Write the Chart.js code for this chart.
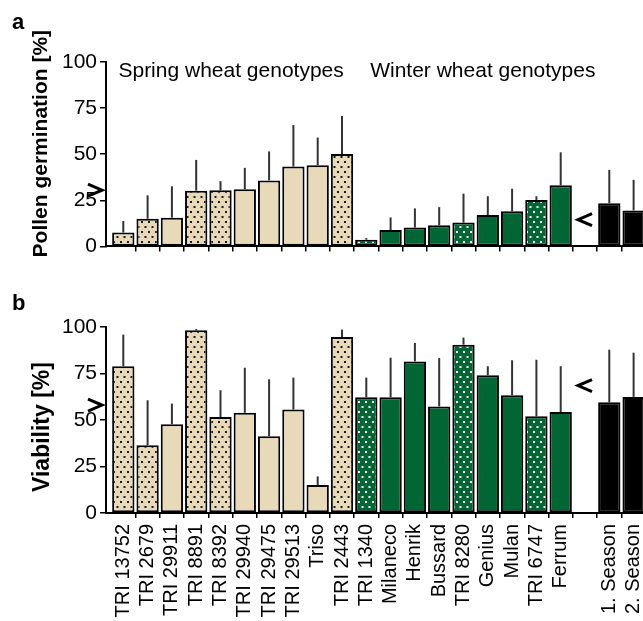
<!DOCTYPE html>
<html>
<head>
<meta charset="utf-8">
<script src="https://cdn.jsdelivr.net/npm/chart.js@4.4.1/dist/chart.umd.min.js"></script>
<style>
  html, body { margin: 0; padding: 0; background: #fff; overflow: hidden; width: 643px; height: 621px; }
  #wrapA { position: absolute; left: 0; top: 0; width: 680px; height: 262px; }
  #wrapB { position: absolute; left: 0; top: 270px; width: 680px; height: 370px; }
</style>
</head>
<body>
<div id="wrapA"><canvas id="chartA"></canvas></div>
<div id="wrapB"><canvas id="chartB"></canvas></div>
<script>
// categories (empty slot = gap before the season bars)
const genotypes = ['TRI 13752', 'TRI 2679', 'TRI 29911', 'TRI 8891', 'TRI 8392', 'TRI 29940', 'TRI 29475', 'TRI 29513', 'Triso', 'TRI 2443',
  'TRI 1340', 'Milaneco', 'Henrik', 'Bussard', 'TRI 8280', 'Genius', 'Mulan', 'TRI 6747', 'Ferrum', '', '1. Season', '2. Season'];
const group = ['S', 'S', 'S', 'S', 'S', 'S', 'S', 'S', 'S', 'S', 'W', 'W', 'W', 'W', 'W', 'W', 'W', 'W', 'W', '', 'K', 'K'];
const dotted = [1, 1, 0, 1, 1, 0, 0, 0, 0, 1, 1, 0, 0, 0, 1, 0, 0, 1, 0, 0, 0, 0];

// a: pollen germination [%], mean and SD
const germination = [7.5, 15.0, 15.6, 30.2, 30.4, 31.0, 35.8, 43.3, 44.0, 50.1, 3.6, 8.9, 10.2, 11.5, 12.9, 17.0, 19.0, 25.2, 33.1, null, 23.4, 19.5];
const germinationSd = [6.3, 12.7, 17.0, 16.7, 5.0, 11.6, 15.7, 22.5, 15.0, 20.6, 0.9, 6.8, 10.4, 9.8, 15.7, 10.2, 12.3, 2.0, 17.9, null, 18.1, 16.6];
// b: viability [%], mean and SD
const viability = [78.9, 36.4, 47.7, 98.2, 51.6, 53.9, 41.2, 55.6, 15.1, 94.6, 62.2, 62.2, 81.5, 57.3, 90.5, 74.0, 63.3, 52.0, 54.3, null, 59.5, 62.4];
const viabilitySd = [17.0, 24.2, 11.1, 0.7, 14.4, 24.2, 30.7, 17.2, 4.6, 4.0, 10.6, 21.3, 9.9, 26.0, 3.8, 4.9, 18.8, 30.4, 24.6, null, 28.3, 23.8];

// group means marked by arrows: [spring, winter]
const germinationArrows = [30.5, 14.5];
const viabilityArrows = [58, 68.5];
const groupLabels = ['Spring wheat genotypes', 'Winter wheat genotypes'];
const yTicks = [0, 25, 50, 75, 100];

const FONT = '"Liberation Sans", Arial, sans-serif';
const BEIGE = '#e8dab9', GREEN = '#006633';
const XMIN = -0.712, XMAX = XMIN + 574 / 24.3;

function dots(bg, dot) {
  const c = document.createElement('canvas');
  c.width = 7; c.height = 10;
  const g = c.getContext('2d');
  g.fillStyle = bg; g.fillRect(0, 0, 7, 10);
  g.fillStyle = dot;
  g.fillRect(1, 1, 2, 2);
  g.fillRect(4.5, 6, 2, 2);
  return g.createPattern(c, 'repeat');
}
const beigeDots = dots(BEIGE, '#1a1a1a');
const greenDots = dots(GREEN, '#ffffff');

const fills = genotypes.map((n, i) => {
  if (group[i] === 'S') return dotted[i] ? beigeDots : BEIGE;
  if (group[i] === 'W') return dotted[i] ? greenDots : GREEN;
  return '#000';
});

function chevron(ctx, x, y, dir) {
  ctx.beginPath();
  ctx.moveTo(x - dir * 14, y - 6);
  ctx.lineTo(x, y);
  ctx.lineTo(x - dir * 14, y + 6);
  ctx.stroke();
}

const extras = {
  id: 'extras',
  afterDatasetsDraw(chart, args, o) {
    const ctx = chart.ctx, x = chart.scales.x, y = chart.scales.y, area = chart.chartArea;
    const meta = chart.getDatasetMeta(0);
    ctx.save();
    // error bars, upper half only
    ctx.strokeStyle = '#333';
    ctx.lineWidth = 2;
    meta.data.forEach((bar, i) => {
      const v = o.values[i], sd = o.sd[i];
      if (v == null || sd == null) return;
      ctx.beginPath();
      ctx.moveTo(bar.x, bar.y);
      ctx.lineTo(bar.x, y.getPixelForValue(v + sd));
      ctx.stroke();
    });
    // mean arrows
    ctx.strokeStyle = '#000';
    ctx.lineWidth = 3;
    chevron(ctx, area.left - 4, y.getPixelForValue(o.arrows[0]), 1);
    chevron(ctx, x.getPixelForValue(19) - 7, y.getPixelForValue(o.arrows[1]), -1);
    // panel letter
    ctx.fillStyle = '#000';
    ctx.textAlign = 'left';
    ctx.textBaseline = 'alphabetic';
    ctx.font = 'bold 22px ' + FONT;
    ctx.fillText(o.letter, 12, o.letterY);
    // y title
    ctx.save();
    ctx.translate(o.titleX, (area.top + area.bottom) / 2 + o.titleShift);
    ctx.rotate(-Math.PI / 2);
    ctx.textAlign = 'center';
    ctx.font = 'bold ' + o.titleSize + 'px ' + FONT;
    ctx.fillText(o.title, 0, 0);
    ctx.restore();
    if (o.groups) {
      ctx.font = '21px ' + FONT;
      ctx.fillText(groupLabels[0], x.getPixelForValue(-0.2), y.getPixelForValue(92));
      ctx.fillText(groupLabels[1], x.getPixelForValue(10.16), y.getPixelForValue(92));
    }
    ctx.restore();
  }
};

function makeChart(id, values, sd, opts) {
  return new Chart(document.getElementById(id), {
    type: 'bar',
    data: {
      datasets: [{
        data: values.map((v, i) => ({x: i, y: v})),
        backgroundColor: fills,
        borderColor: '#000',
        borderWidth: 2,
        borderSkipped: false,
        categoryPercentage: 1,
        barPercentage: 0.918
      }]
    },
    options: {
      responsive: true,
      maintainAspectRatio: false,
      animation: false,
      layout: {padding: {top: opts.padTop, left: 0, right: 0, bottom: 0}},
      plugins: {
        legend: {display: false},
        tooltip: {enabled: false},
        extras: Object.assign({values: values, sd: sd}, opts.extras)
      },
      scales: {
        x: {
          type: 'linear',
          min: XMIN,
          max: XMAX,
          bounds: 'data',
          offset: false,
          afterBuildTicks: (s) => { s.ticks = genotypes.map((g, i) => ({value: i})); },
          afterFit: (s) => { s.height = opts.xHeight; },
          ticks: {
            display: opts.labels,
            autoSkip: false,
            minRotation: 90,
            maxRotation: 90,
            padding: 6,
            color: '#000',
            font: {family: FONT, size: 20},
            callback: (v, i) => genotypes[i]
          },
          grid: {
            drawOnChartArea: false,
            offset: true,
            tickLength: 5,
            lineWidth: 1.5,
            color: (c) => c.index === 0 ? 'rgba(0,0,0,0)' : '#000'
          },
          border: {color: '#000', width: 2}
        },
        y: {
          min: 0,
          max: 100,
          afterBuildTicks: (s) => { s.ticks = yTicks.map(v => ({value: v})); },
          afterFit: (s) => { s.width = 106; },
          ticks: {color: '#000', padding: 3, font: {family: FONT, size: 21}},
          grid: {drawOnChartArea: false, tickLength: 6, lineWidth: 1.5, color: '#000'},
          border: {color: '#000', width: 2}
        }
      }
    },
    plugins: [extras]
  });
}

makeChart('chartA', germination, germinationSd, {
  padTop: 62, xHeight: 14, labels: false,
  extras: {arrows: germinationArrows, letter: 'a', letterY: 29, title: 'Pollen germination [%]', titleSize: 21, titleX: 47, titleShift: -10.5, groups: true}
});
makeChart('chartB', viability, viabilitySd, {
  padTop: 57, xHeight: 127, labels: true,
  extras: {arrows: viabilityArrows, letter: 'b', letterY: 40, title: 'Viability [%]', titleSize: 23, titleX: 49, titleShift: 7, groups: false}
});
</script>
</body>
</html>
